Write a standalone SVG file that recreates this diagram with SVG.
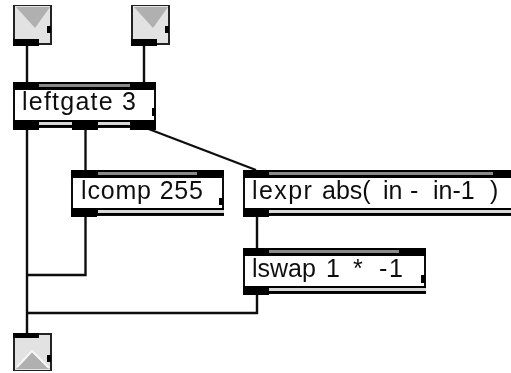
<svg xmlns="http://www.w3.org/2000/svg" width="511" height="373" viewBox="0 0 511 373">
<style>
.bg{fill:#fff}
.box{fill:#fff;stroke:#111;stroke-width:2}
.port{fill:#000}
.bar{fill:#8a8a8a}
.strip{fill:#d8d8d8}
.wire{fill:none;stroke:#111;stroke-width:2.4}
.btn{fill:#e2e2e2;stroke:#222;stroke-width:2}
.tri{fill:#b0b0b0}
.hi{fill:none;stroke:#f6f6f6;stroke-width:2}
.t{font-family:"Liberation Sans",Arial,sans-serif;font-size:25px;fill:#111}
.w{letter-spacing:1.4px}
</style>
<defs><filter id="soft" x="0" y="0" width="100%" height="100%"><feGaussianBlur stdDeviation="0.5"/></filter></defs>
<rect class="bg" width="511" height="373"/>
<g filter="url(#soft)">
<g id="connectors">
<path class="wire" d="M27 46V82"/>
<path class="wire" d="M144 46V82"/>
<path class="wire" d="M27 130V334"/>
<path class="wire" d="M85.500 130V170"/>
<path class="wire" d="M146 128L256 170"/>
<path class="wire" d="M85.500 217V275H27"/>
<path class="wire" d="M257 217V249"/>
<path class="wire" d="M257 295V313H27"/>
</g>
<g id="in1">
<rect class="btn" x="14" y="5" width="37" height="39"/>
<path class="tri" d="M16 7H50L35 28Z"/>
<path class="port" d="M13 39H39V46H13Z"/>
<rect class="port" x="47" y="26" width="4" height="7"/>
</g>
<g id="in2">
<rect class="btn" x="132" y="5" width="37" height="39"/>
<path class="tri" d="M134 7H168L153 28Z"/>
<path class="port" d="M131 39H157V46H131Z"/>
<rect class="port" x="165" y="26" width="4" height="7"/>
</g>
<g id="leftgate">
<rect class="box" x="14" y="83" width="141" height="44"/>
<rect class="port" x="13" y="82" width="143" height="8"/>
<rect class="bar" x="39" y="84" width="91" height="3"/>
<rect class="port" x="13" y="120" width="143" height="7"/>
<rect class="strip" x="39" y="122" width="33" height="3"/>
<rect class="strip" x="98" y="122" width="32" height="3"/>
<rect class="port" x="13" y="122" width="26" height="8"/>
<rect class="port" x="72" y="122" width="26" height="8"/>
<rect class="port" x="130" y="122" width="26" height="8"/>
<rect class="port" x="152" y="108" width="4" height="8"/>
<text class="t" x="22" y="110" textLength="114" lengthAdjust="spacing">leftgate 3</text>
</g>
<g id="lcomp">
<rect class="box" x="72" y="171" width="151" height="44"/>
<rect class="port" x="71" y="170" width="153" height="8"/>
<rect class="bar" x="98" y="172" width="99" height="3"/>
<rect class="port" x="71" y="208" width="153" height="7"/>
<rect class="strip" x="98" y="210" width="126" height="3"/>
<rect class="port" x="71" y="208" width="26" height="9"/>
<rect class="port" x="219" y="198" width="4" height="7"/>
<text class="t" x="81" y="199" textLength="122" lengthAdjust="spacing">lcomp 255</text>
</g>
<g id="lexpr">
<path class="box" d="M511 171H244V215H511"/>
<rect class="port" x="243" y="170" width="268" height="8"/>
<rect class="bar" x="269" y="172" width="224" height="3"/>
<rect class="port" x="243" y="208" width="268" height="7"/>
<rect class="strip" x="269" y="210" width="242" height="3"/>
<rect class="port" x="243" y="208" width="26" height="9"/>
<text class="t" y="199"><tspan class="w" x="252">lexpr</tspan><tspan x="322">abs(</tspan><tspan x="383">in</tspan><tspan x="410">-</tspan><tspan x="433">in-1</tspan><tspan x="490">)</tspan></text>
</g>
<g id="lswap">
<rect class="box" x="244" y="249" width="181" height="44"/>
<rect class="port" x="243" y="248" width="183" height="8"/>
<rect class="bar" x="269" y="250" width="130" height="3"/>
<rect class="port" x="243" y="286" width="183" height="7"/>
<rect class="strip" x="269" y="288" width="157" height="3"/>
<rect class="port" x="243" y="286" width="26" height="9"/>
<rect class="port" x="421" y="275" width="4" height="8"/>
<text class="t" y="277"><tspan x="252">lswap</tspan><tspan x="326">1</tspan><tspan x="353">*</tspan><tspan x="379">-</tspan><tspan x="389">1</tspan></text>
</g>
<g id="out">
<rect class="btn" x="14" y="334" width="37" height="37"/>
<path class="tri" d="M16 369L32 352L50 369Z"/>
<path class="hi" d="M17 367L32 351L49 368"/>
<path class="port" d="M13 333H39V338H13Z"/>
<rect class="port" x="47" y="355" width="4" height="7"/>
</g>
</g>
</svg>
